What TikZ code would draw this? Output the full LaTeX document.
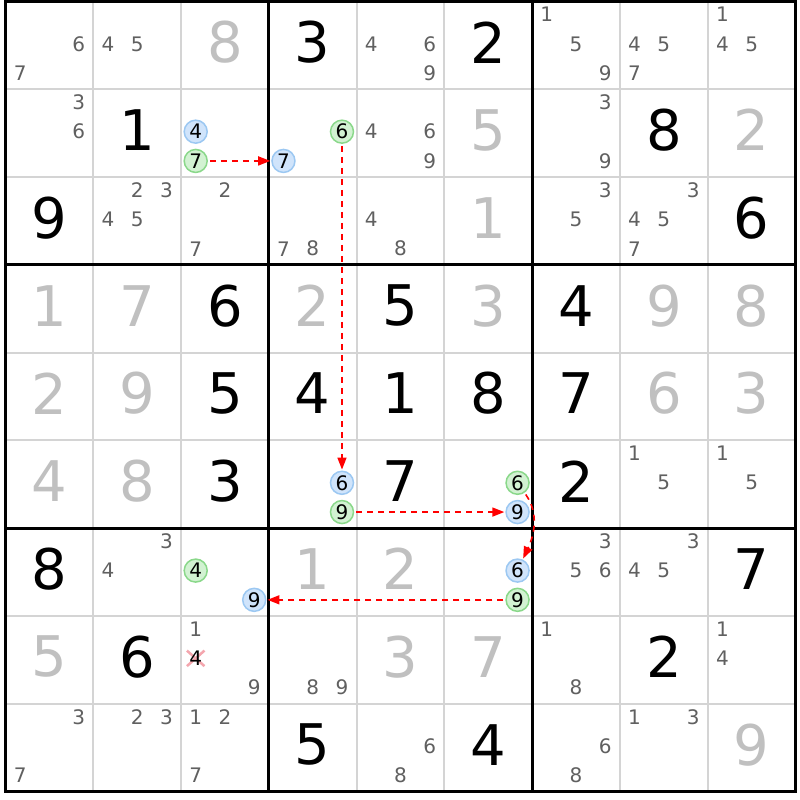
\documentclass[tikz,border=0pt]{standalone}
\usepackage{fontspec}
\setmainfont{DejaVu Sans}
\usetikzlibrary{arrows.meta,shapes.misc}
\definecolor{givencol}{HTML}{C0C0C0}
\definecolor{candcol}{HTML}{606060}
\definecolor{gridgray}{HTML}{D4D4D4}
\definecolor{bfill}{HTML}{D0E4FB}
\definecolor{bline}{HTML}{9CC8F2}
\definecolor{gfill}{HTML}{D2F2D2}
\definecolor{gline}{HTML}{8AD88A}
\definecolor{xcol}{HTML}{F4A6AE}
\definecolor{linkred}{HTML}{FF0000}
\newcommand\bignode[4]{%
  \node[#1] (n#2#3) at ({5.5+(#3-0.5)*87.78},{1.5+(#2-0.5)*87.78-3}) {#4};}
\newcommand\candnode[4]{%
  \pgfmathsetmacro\pcol{mod(#4-1,3)}%
  \pgfmathsetmacro\prow{int((#4-1)/3)}%
  \node[#1] (c#2#3#4) at ({5.5+(#3-1)*87.78+(\pcol+0.5)*29.26},{1.5+(#2-1)*87.78+(\prow+0.5)*29.26-1.5}) {#4};}
\begin{document}
\begin{tikzpicture}[x=1pt,y=-1pt,
  big/.style={font=\fontsize{56}{56}\selectfont, inner sep=0pt},
  givenst/.style={big, text=givencol},
  solvedst/.style={big, text=black},
  candst/.style={font=\fontsize{20}{20}\selectfont, inner sep=0pt, text=candcol},
  candblack/.style={candst, text=black},
  bluec/.style={circle, draw=bline, fill=bfill, line width=1.5pt, minimum size=23pt, inner sep=0pt, font=\fontsize{20}{20}\selectfont, text=black},
  greenc/.style={circle, draw=gline, fill=gfill, line width=1.5pt, minimum size=23pt, inner sep=0pt, font=\fontsize{20}{20}\selectfont, text=black},
  link/.style={draw=linkred, line width=1.6pt, dash pattern=on 6pt off 5pt, -{Triangle[length=12pt,width=9pt,fill=linkred]}, shorten >=1pt, shorten <=2pt},
  thinline/.style={gridgray, line width=2pt},
  thickline/.style={black, line width=3pt}]
\useasboundingbox (0,0) rectangle (800,800);
\fill[white] (0,0) rectangle (800,800);
% grid
\foreach \i in {1,2,4,5,7,8} {
  \draw[thinline] ({5.5+\i*87.78},1.5) -- ++(0,790);
  \draw[thinline] (5.5,{1.5+\i*87.78}) -- ++(790,0);
}
\foreach \i in {3,6} {
  \draw[thickline] ({5.5+\i*87.78},1.5) -- ++(0,790);
  \draw[thickline] (5.5,{1.5+\i*87.78}) -- ++(790,0);
}
\draw[thickline] (5.5,1.5) rectangle (795.5,791.5);
% given digits
\foreach \r/\c/\d in {1/3/8, 2/6/5, 2/9/2, 3/6/1, 4/1/1, 4/2/7, 4/4/2, 4/6/3, 4/8/9, 4/9/8,
  5/1/2, 5/2/9, 5/8/6, 5/9/3, 6/1/4, 6/2/8, 7/4/1, 7/5/2, 8/1/5, 8/5/3, 8/6/7, 9/9/9}
  {\bignode{givenst}{\r}{\c}{\d}}
% solved digits
\foreach \r/\c/\d in {1/4/3, 1/6/2, 2/2/1, 2/8/8, 3/1/9, 3/9/6, 4/3/6, 4/5/5, 4/7/4,
  5/3/5, 5/4/4, 5/5/1, 5/6/8, 5/7/7, 6/3/3, 6/5/7, 6/7/2, 7/1/8, 7/9/7, 8/2/6, 8/8/2, 9/4/5, 9/6/4}
  {\bignode{solvedst}{\r}{\c}{\d}}
% candidates
\foreach \r/\c/\d in {1/1/6, 1/1/7, 1/2/4, 1/2/5, 1/5/4, 1/5/6, 1/5/9, 1/7/1, 1/7/5, 1/7/9,
  1/8/4, 1/8/5, 1/8/7, 1/9/1, 1/9/4, 1/9/5,
  2/1/3, 2/1/6, 2/5/4, 2/5/6, 2/5/9, 2/7/3, 2/7/9,
  3/2/2, 3/2/3, 3/2/4, 3/2/5, 3/3/2, 3/3/7, 3/4/7, 3/4/8, 3/5/4, 3/5/8, 3/7/3, 3/7/5,
  3/8/3, 3/8/4, 3/8/5, 3/8/7,
  6/8/1, 6/8/5, 6/9/1, 6/9/5,
  7/2/3, 7/2/4, 7/7/3, 7/7/5, 7/7/6, 7/8/3, 7/8/4, 7/8/5,
  8/3/1, 8/3/9, 8/4/8, 8/4/9, 8/7/1, 8/7/8, 8/9/1, 8/9/4,
  9/1/3, 9/1/7, 9/2/2, 9/2/3, 9/3/1, 9/3/2, 9/3/7, 9/5/6, 9/5/8, 9/7/6, 9/7/8, 9/8/1, 9/8/3}
  {\candnode{candst}{\r}{\c}{\d}}
% eliminated candidate
\node[cross out, draw=xcol, line width=2.5pt, minimum width=15pt, minimum height=13pt, inner sep=0pt]
  (xmark) at ({5.5+2*87.78+0.5*29.26},{1.5+7*87.78+1.5*29.26-1.5}) {};
\candnode{candblack}{8}{3}{4}
% highlighted candidates
\candnode{bluec}{2}{3}{4}
\candnode{greenc}{2}{3}{7}
\candnode{bluec}{2}{4}{7}
\candnode{greenc}{2}{4}{6}
\candnode{bluec}{6}{4}{6}
\candnode{greenc}{6}{4}{9}
\candnode{greenc}{6}{6}{6}
\candnode{bluec}{6}{6}{9}
\candnode{bluec}{7}{6}{6}
\candnode{greenc}{7}{6}{9}
\candnode{greenc}{7}{3}{4}
\candnode{bluec}{7}{3}{9}
% links
\draw[link] (c237) -- (c247);
\draw[link] (c246) -- (c646);
\draw[link] (c649) -- (c669);
\draw[link] (c666) to[out=-55,in=65] (c766);
\draw[link] (c769) -- (c739);
\end{tikzpicture}
\end{document}
